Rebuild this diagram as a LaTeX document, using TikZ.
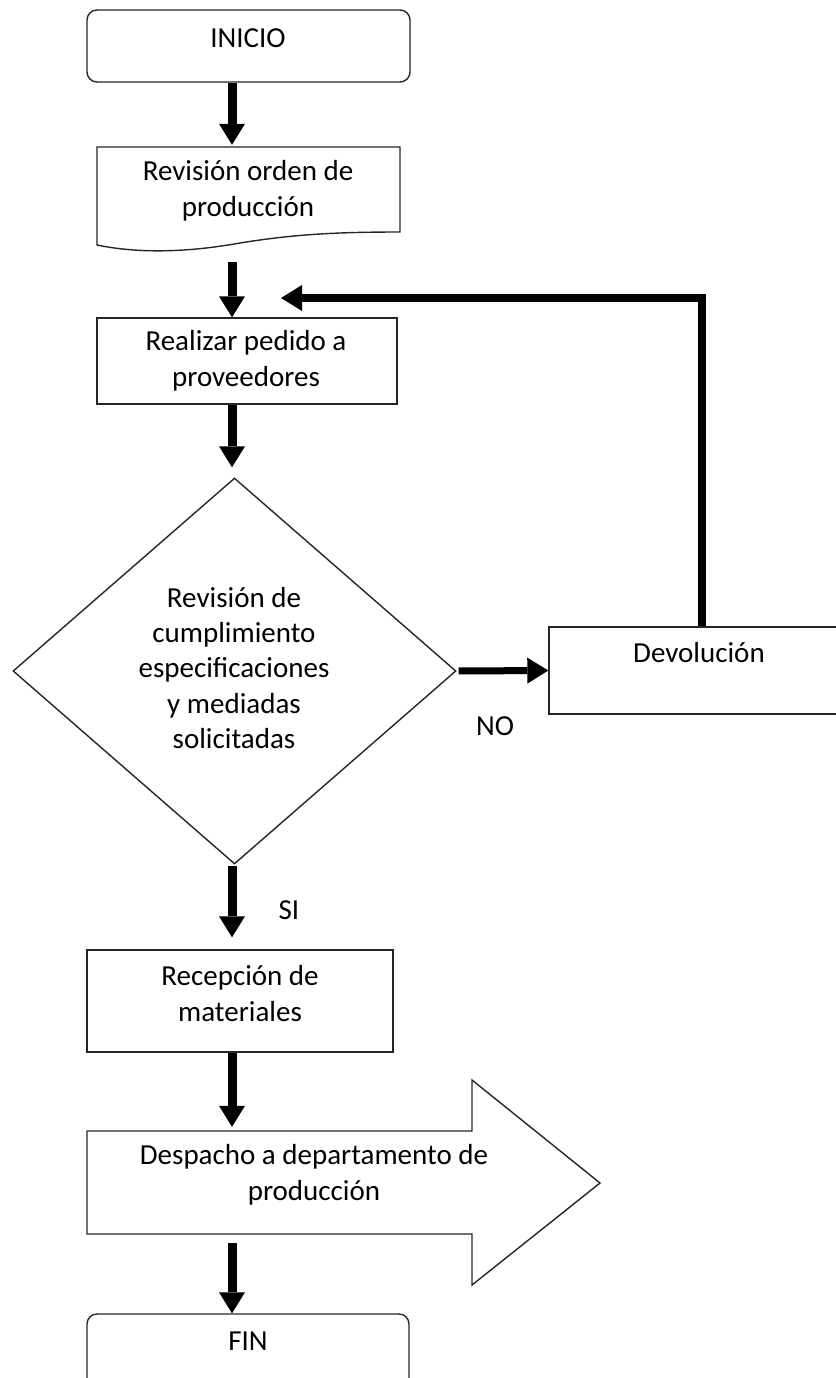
\documentclass[tikz,border=0pt]{standalone}
\usepackage{fontspec}
\setmainfont{Carlito}
\usetikzlibrary{arrows.meta,shapes.geometric}
\begin{document}
\begin{tikzpicture}[x=1pt,y=-1pt,
  box/.style={draw=black!85,line width=1.4pt,fill=white,rectangle,inner sep=0pt},
  term/.style={box,rounded corners=10pt},
  outline/.style={draw=black!85,line width=1.4pt,fill=white},
  txt/.style={font=\fontsize{29}{36}\selectfont,align=center,inner sep=0pt},
  arr/.style={line width=9pt,-{Triangle[length=21pt,width=26pt,line width=0pt]}},
  lbl/.style={font=\fontsize{29}{36}\selectfont,inner sep=0pt}]
\useasboundingbox (0,0) rectangle (835,1378);
\fill[white] (0,0) rectangle (835,1378);
\coordinate (col) at (232,0);

% INICIO
\node[term,minimum width=323pt,minimum height=72pt] (inicio) at (248.5,46) {};
\node[txt] (tinicio) at (248,38) {INICIO};

% document shape
\node[inner sep=0pt,minimum width=303pt,minimum height=98pt] (doc) at (248.5,196) {};
\draw[outline] (97,245) -- (97,147) -- (400,147) -- (400,232)
  .. controls (330,232) and (290,235) .. (240,243)
  .. controls (190,252) and (140,254) .. (97,245) -- cycle;
\node[txt] (tdoc) at (248,191) {Revisión orden de\\producción};

% Realizar pedido
\node[box,minimum width=300pt,minimum height=86pt] (realizar) at (247,361) {};
\node[txt] (treal) at (246,361) {Realizar pedido a\\proveedores};

% decision
\node[box,diamond,minimum width=443pt,minimum height=386pt] (dec) at (234.5,671) {};
\node[txt,font=\fontsize{29}{35.3}\selectfont] (tdec) at (234,668) {Revisión de\\cumplimiento\\especificaciones\\y mediadas\\solicitadas};

% Devolucion
\node[box,minimum width=311pt,minimum height=87pt] (devol) at (704.5,670.5) {};
\node[txt] (tdevol) at (699,653) {Devolución};
\node[lbl] (tno) at (495,726) {NO};

% Recepcion
\node[box,minimum width=306pt,minimum height=102pt] (recep) at (240,1001) {};
\node[txt] (trecep) at (240,994) {Recepción de\\materiales};
\node[lbl] (tsi) at (289,910) {SI};

% Despacho (block arrow)
\node[inner sep=0pt,minimum width=385pt,minimum height=103pt] (desp) at (279.5,1182.5) {};
\draw[outline] (87,1131) -- (472,1131) -- (472,1080) -- (600,1183) -- (472,1285)
  -- (472,1234) -- (87,1234) -- cycle;
\node[txt] (tdesp) at (314,1175) {Despacho a departamento de\\producción};

% FIN
\node[term,minimum width=322pt,minimum height=86pt] (fin) at (248,1357) {};
\node[txt] (tfin) at (248,1341) {FIN};

% connectors
\draw[arr,shorten >=2pt] (inicio.south -| col) -- (doc.north -| col);
\draw[arr,shorten <=17pt] (doc.south -| col) -- (realizar.north -| col);
\draw[arr,shorten >=10pt] (realizar.south -| col) -- (dec.north -| col);
\draw[arr,line width=7pt,shorten <=2pt] (dec.east) -- (devol.west);
\coordinate (fbcorner) at (702,298);
\coordinate (fbend) at (281,298);
\draw[arr,line width=8pt] (devol.north -| fbcorner) |- (fbend);
\draw[arr,shorten <=1pt,shorten >=12pt] (dec.south -| col) -- (recep.north -| col);
\draw[arr,shorten >=4pt] (recep.south -| col) -- (desp.north -| col);
\draw[arr,shorten <=9pt] (desp.south -| col) -- (fin.north -| col);
\end{tikzpicture}
\end{document}
